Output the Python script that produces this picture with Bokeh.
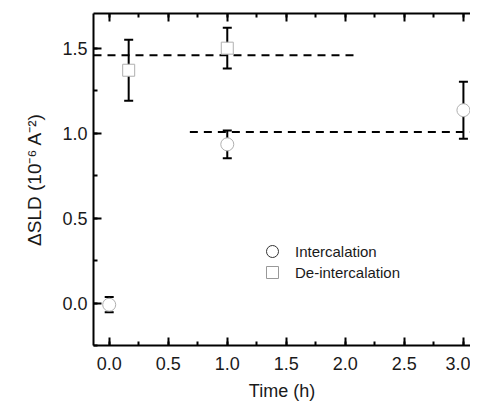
from bokeh.plotting import figure
from bokeh.models import (ColumnDataSource, Whisker, TeeHead, LinearAxis, SingleIntervalTicker,
                          Range1d, Legend, LegendItem, NumeralTickFormatter, CustomJSTickFormatter)
from bokeh.embed import file_html
from bokeh.resources import INLINE

# Data
inter_t = [0.0, 1.0, 3.0]
inter_v = [-0.01, 0.934, 1.135]
inter_e = [0.045, 0.082, 0.168]

deint_t = [0.165, 1.0]
deint_v = [1.37, 1.50]
deint_e = [0.18, 0.12]

fit_levels = [1.458, 1.006]
fit_x0 = [-0.133, 0.683]
fit_x1 = [2.106, 3.2]

series_names = ["Intercalation", "De-intercalation"]

FONT = "Liberation Sans"

p = figure(width=470, height=403, output_backend="svg", toolbar_location=None,
           x_range=Range1d(-0.133, 3.06), y_range=Range1d(-0.25, 1.704),
           min_border_left=93, min_border_top=13, min_border_right=0, min_border_bottom=58)
p.grid.visible = False
p.outline_line_color = None

def style_axis(ax):
    ax.axis_line_width = 2
    ax.axis_line_color = "black"
    ax.major_tick_in = 8
    ax.major_tick_out = 0
    ax.minor_tick_in = 4
    ax.minor_tick_out = 0
    ax.major_tick_line_width = 2
    ax.minor_tick_line_width = 2
    ax.major_label_text_font = FONT
    ax.major_label_text_font_size = "18px"
    ax.major_label_text_color = "#1a1a1a"
    ax.axis_label_text_font = FONT
    ax.axis_label_text_font_size = "18px"
    ax.axis_label_text_font_style = "normal"
    ax.axis_label_text_color = "#1a1a1a"

p.xaxis.ticker = SingleIntervalTicker(interval=0.5, num_minor_ticks=2)
p.yaxis.ticker = SingleIntervalTicker(interval=0.5, num_minor_ticks=2)
p.xaxis.formatter = NumeralTickFormatter(format="0.0")
p.yaxis.formatter = NumeralTickFormatter(format="0.0")
p.xaxis.axis_label = "Time (h)"
p.yaxis.axis_label = "ΔSLD (10⁻⁶ A⁻²)"
style_axis(p.xaxis[0])
style_axis(p.yaxis[0])
p.yaxis[0].axis_label_text_font_size = "19px"
p.xaxis[0].major_label_standoff = 11
p.yaxis[0].major_label_standoff = 6
p.xaxis[0].axis_label_standoff = 8
p.yaxis[0].axis_label_standoff = 14

top = LinearAxis(ticker=SingleIntervalTicker(interval=0.5, num_minor_ticks=2),
                 formatter=CustomJSTickFormatter(code="return ''"))
style_axis(top)
top.major_label_standoff = 0
p.add_layout(top, "above")

# fit lines
for lv, a, b in zip(fit_levels, fit_x0, fit_x1):
    p.line([a, b], [lv, lv], line_color="black", line_width=2, line_dash="8 6")

# error bars
def add_err(t, v, e):
    src = ColumnDataSource(dict(x=t, lo=[a - b for a, b in zip(v, e)], hi=[a + b for a, b in zip(v, e)]))
    w = Whisker(source=src, base="x", lower="lo", upper="hi", line_width=2, line_color="black",
                upper_head=TeeHead(size=9, line_width=2, line_color="black"),
                lower_head=TeeHead(size=9, line_width=2, line_color="black"))
    p.add_layout(w)

add_err(inter_t, inter_v, inter_e)
add_err(deint_t, deint_v, deint_e)

p.scatter(inter_t, inter_v, marker="circle", size=13, fill_color="white",
          line_color="#b0b0b0", line_width=1)
p.scatter(deint_t, deint_v, marker="square", size=12, fill_color="white",
          line_color="#b0b0b0", line_width=1)

lr1 = p.scatter([0], [-10], marker="circle", size=13, fill_color="white", line_color="#333333", line_width=1)
lr2 = p.scatter([0], [-10], marker="square", size=12, fill_color="white", line_color="#999999", line_width=1)

for name, rr, yloc in zip(series_names, [lr1, lr2], [79, 58]):
    leg = Legend(items=[LegendItem(label=name, renderers=[rr])], location=(164, yloc))
    leg.label_text_font = FONT
    leg.label_text_font_size = "15px"
    leg.label_text_color = "#1a1a1a"
    leg.border_line_color = None
    leg.background_fill_alpha = 0
    leg.padding = 0
    leg.margin = 0
    leg.spacing = 0
    leg.glyph_width = 30
    leg.glyph_height = 30
    leg.label_height = 21
    leg.label_standoff = 8
    p.add_layout(leg, "center")

open("out.html", "w").write(file_html(p, INLINE))
